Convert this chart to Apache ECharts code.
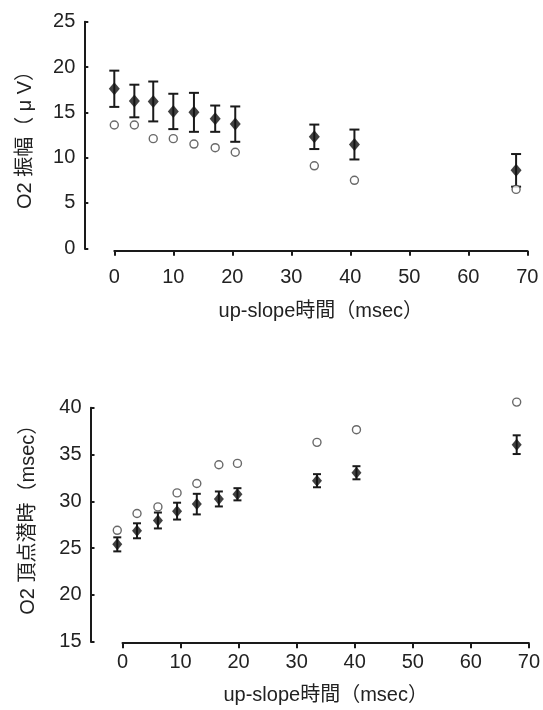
<!DOCTYPE html>
<html>
<head>
<meta charset="utf-8">
<script src="https://cdn.jsdelivr.net/npm/echarts@6/dist/echarts.min.js"></script>
<style>
  html, body { margin: 0; padding: 0; background: #fff; }
  #chart { width: 543px; height: 710px; }
</style>
</head>
<body>
<div id="chart"></div>
<script>
  // upper panel: O2 amplitude
  var ampX    = [0, 3.4, 6.6, 10, 13.5, 17.1, 20.5, 33.9, 40.7, 68.1];
  var ampMean = [17.6, 16.25, 16.2, 15.1, 15.0, 14.3, 13.7, 12.3, 11.45, 8.6];
  var ampErr  = [2.0, 1.8, 2.2, 1.95, 2.15, 1.45, 1.95, 1.35, 1.65, 1.8];
  var ampOpen = [13.6, 13.6, 12.1, 12.1, 11.5, 11.1, 10.6, 9.1, 7.5, 6.5];

  // lower panel: O2 peak latency
  var latX    = [-0.9, 2.5, 6.1, 9.4, 12.8, 16.6, 19.8, 33.5, 40.3, 67.9];
  var latMean = [25.4, 26.85, 27.95, 28.95, 29.7, 30.25, 30.75, 32.2, 33.05, 36.05];
  var latErr  = [0.75, 0.8, 0.85, 0.9, 1.1, 0.8, 0.65, 0.7, 0.7, 1.0];
  var latOpen = [26.9, 28.7, 29.4, 30.9, 31.9, 33.9, 34.05, 36.3, 37.65, 40.6];

  var FONT = '"Liberation Sans", "Noto Sans CJK JP", sans-serif';
  var INK = '#1a1a1a';

  function pairs(xs, ys) {
    var out = [];
    xs.forEach(function (x, i) { out.push([x, ys[i]]); });
    return out;
  }
  function bars(xs, m, e) {
    var out = [];
    xs.forEach(function (x, i) { out.push([x, m[i] - e[i], m[i] + e[i]]); });
    return out;
  }
  function errRender(capW) {
    return function (params, api) {
      var x = api.value(0);
      var lo = api.coord([x, api.value(1)]);
      var hi = api.coord([x, api.value(2)]);
      var st = { stroke: INK, lineWidth: 2 };
      return {
        type: 'group',
        children: [
          { type: 'line', shape: { x1: hi[0], y1: hi[1], x2: lo[0], y2: lo[1] }, style: st },
          { type: 'line', shape: { x1: hi[0] - capW / 2, y1: hi[1], x2: hi[0] + capW / 2, y2: hi[1] }, style: st },
          { type: 'line', shape: { x1: lo[0] - capW / 2, y1: lo[1], x2: lo[0] + capW / 2, y2: lo[1] }, style: st }
        ]
      };
    };
  }

  function xAxisCfg(gi, offset, margin, gap) {
    return {
      gridIndex: gi, type: 'value', min: 0, max: 70, interval: 10, offset: offset,
      name: 'up-slope時間（msec）', nameLocation: 'middle', nameGap: gap,
      nameTextStyle: { fontFamily: FONT, fontSize: 20, color: '#222' },
      axisLine: { onZero: false, lineStyle: { color: INK, width: 2 } },
      axisTick: { inside: false, length: 5, lineStyle: { color: INK, width: 2 } },
      axisLabel: { margin: margin, fontFamily: FONT, fontSize: 20, color: '#222' },
      splitLine: { show: false }
    };
  }
  function yAxisCfg(gi, min, max, offset, name, gap, pad) {
    return {
      gridIndex: gi, type: 'value', min: min, max: max, interval: 5, offset: offset,
      name: name, nameLocation: 'middle', nameGap: gap,
      nameTextStyle: { fontFamily: FONT, fontSize: 20, color: '#222', padding: pad },
      axisLine: { show: true, onZero: false, lineStyle: { color: INK, width: 2 } },
      axisTick: { show: true, inside: true, length: 4, lineStyle: { color: INK, width: 2 } },
      axisLabel: { margin: 9, fontFamily: FONT, fontSize: 20, color: '#222' },
      splitLine: { show: false }
    };
  }

  var chart = echarts.init(document.getElementById('chart'));
  chart.setOption({
    animation: false,
    backgroundColor: '#fff',
    grid: [
      { left: 114.3, width: 413, top: 21.7, height: 226.6 },
      { left: 122.5, width: 410.8, top: 407.7, height: 234 }
    ],
    xAxis: [
      xAxisCfg(0, 2.5, 17, 51),
      xAxisCfg(1, 1.5, 9, 42)
    ],
    yAxis: [
      yAxisCfg(0, 0, 25, 30, 'O2 振幅（ μ V）', 49, [0, 0, 0, 0]),
      yAxisCfg(1, 15, 40, 32, 'O2 頂点潜時（msec）', 52, [0, 0, 0, 20])
    ],
    series: [
      { type: 'custom', xAxisIndex: 0, yAxisIndex: 0, clip: false,
        renderItem: errRender(10), data: bars(ampX, ampMean, ampErr), z: 2 },
      { type: 'scatter', xAxisIndex: 0, yAxisIndex: 0, clip: false,
        symbol: 'circle', symbolSize: 8, data: pairs(ampX, ampOpen),
        itemStyle: { color: '#fff', borderColor: '#444', borderWidth: 1.4 }, z: 3 },
      { type: 'scatter', xAxisIndex: 0, yAxisIndex: 0, clip: false,
        symbol: 'diamond', symbolSize: [11, 13], data: pairs(ampX, ampMean),
        itemStyle: { color: '#111' }, z: 4 },

      { type: 'custom', xAxisIndex: 1, yAxisIndex: 1, clip: false,
        renderItem: errRender(8), data: bars(latX, latMean, latErr), z: 2 },
      { type: 'scatter', xAxisIndex: 1, yAxisIndex: 1, clip: false,
        symbol: 'circle', symbolSize: 8, data: pairs(latX, latOpen),
        itemStyle: { color: '#fff', borderColor: '#444', borderWidth: 1.4 }, z: 3 },
      { type: 'scatter', xAxisIndex: 1, yAxisIndex: 1, clip: false,
        symbol: 'diamond', symbolSize: [10, 12], data: pairs(latX, latMean),
        itemStyle: { color: '#111' }, z: 4 }
    ]
  });
</script>
</body>
</html>
